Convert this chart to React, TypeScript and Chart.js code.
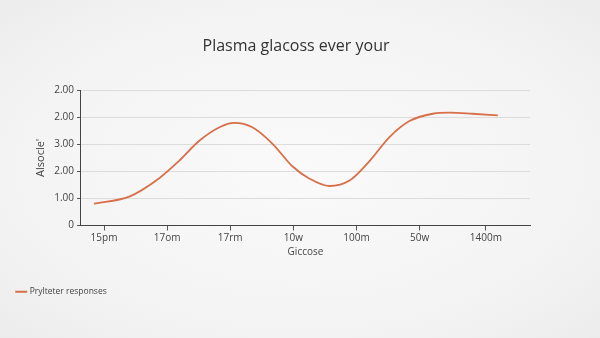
import React, { useEffect, useRef } from "react";
import { Chart, registerables } from "chart.js";

Chart.register(...registerables);

const xLabels = ["15pm", "17om", "17rm", "10w", "100m", "50w", "1400m"];
const xTickPositions = [0, 1, 2, 3, 4, 5, 6.05];
const yTickLabels = ["0", "1.00", "2.00", "3.00", "2.00", "2.00"];
const seriesX = [-0.16, 0.4, 0.87, 1.19, 1.51, 1.83, 2.06, 2.35, 2.67, 2.98, 3.25, 3.57, 3.89, 4.21, 4.52, 4.84, 5.21, 5.48, 5.84, 6.24];
const seriesY = [0.81, 1.07, 1.74, 2.39, 3.13, 3.63, 3.79, 3.63, 3.02, 2.2, 1.74, 1.46, 1.66, 2.39, 3.26, 3.86, 4.13, 4.17, 4.13, 4.07];

export default function App() {
  const ref = useRef<HTMLCanvasElement>(null);
  useEffect(() => {
    if (!ref.current) return;
    const chart = new Chart(ref.current, {
      type: "line",
      data: {
        datasets: [
          {
            label: "Prylteter responses",
            data: seriesX.map((x, i) => ({ x, y: seriesY[i] })),
            borderColor: "#d86f48",
            backgroundColor: "#d86f48",
            borderWidth: 1.8,
            pointRadius: 0,
            cubicInterpolationMode: "monotone",
            fill: false,
          },
        ],
      },
      options: {
        animation: false,
        responsive: false,
        layout: { padding: { left: 7, right: 15, top: 10, bottom: 32 } },
        plugins: {
          title: {
            display: true,
            text: "Plasma glacoss ever your",
            color: "#333",
            font: { family: "Open Sans", size: 16, weight: "normal" },
            padding: { top: 27, bottom: 34 },
          },
          legend: {
            position: "bottom",
            align: "start",
            labels: {
              usePointStyle: true,
              pointStyle: "line",
              boxWidth: 13,
              color: "#444",
              font: { family: "Open Sans", size: 8.5 },
              padding: 10,
            },
          },
          tooltip: { enabled: false },
        },
        scales: {
          x: {
            type: "linear",
            min: -0.365,
            max: 6.75,
            afterBuildTicks: (scale: any) => {
              scale.ticks = xTickPositions.map((v) => ({ value: v }));
            },
            ticks: {
              autoSkip: false,
              maxRotation: 0,
              color: "#444",
              font: { family: "Open Sans", size: 10 },
              padding: 2,
              callback: (_v: any, i: number) => xLabels[i],
            },
            grid: { drawOnChartArea: false, drawTicks: true, tickLength: 5, color: "#555" },
            border: { color: "#444", width: 1 },
            title: {
              display: true,
              text: "Giccose",
              color: "#444",
              font: { family: "Open Sans", size: 10 },
              padding: { top: 0, bottom: 19 },
            },
          },
          y: {
            min: 0,
            max: 5,
            ticks: {
              stepSize: 1,
              color: "#444",
              font: { family: "Open Sans", size: 10 },
              padding: 3,
              callback: (_v: any, i: number) => yTickLabels[i],
            },
            grid: { color: "#dcdcdc", tickLength: 4, tickColor: "#555" },
            border: { color: "#444", width: 1 },
            title: {
              display: true,
              text: "Alsocle'",
              color: "#444",
              font: { family: "Open Sans", size: 11 },
              padding: { top: 27, bottom: 4 },
            },
          },
          yRight: {
            position: "right",
            display: true,
            ticks: { display: false },
            grid: { display: false, drawTicks: false },
            border: { display: false },
            afterFit: (s: any) => {
              s.width = 55;
            },
          },
        },
      },
    });
    return () => chart.destroy();
  }, []);
  return (
    <div
      style={{
        width: 600,
        height: 338,
        background: "radial-gradient(ellipse at center, #fafafa 0%, #f3f3f3 70%, #ececec 100%)",
      }}
    >
      <canvas ref={ref} width={600} height={338} style={{ display: "block" }} />
    </div>
  );
}

if (typeof document !== "undefined") {
  document.body.style.margin = "0";
}
